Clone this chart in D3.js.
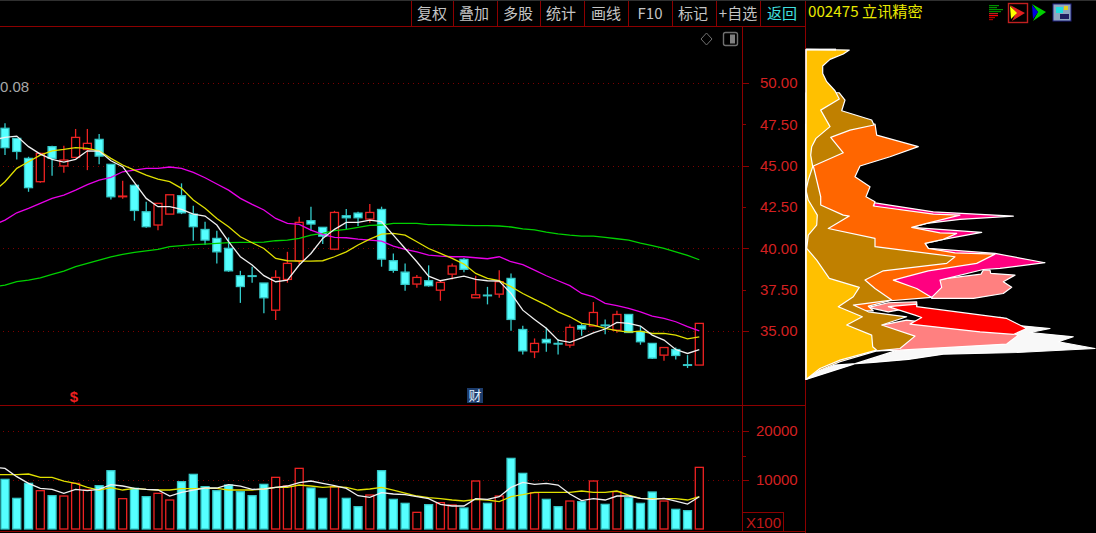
<!DOCTYPE html>
<html><head><meta charset="utf-8">
<script src="https://cdn.jsdelivr.net/npm/d3@7/dist/d3.min.js"></script>
<style>html,body{margin:0;padding:0;background:#000;overflow:hidden}svg{display:block}</style>
</head><body><svg id="c" width="1096" height="533"></svg>
<script>
const opens=[47.26,46.65,45.44,44.03,46.15,44.98,45.50,45.98,46.59,45.08,43.12,43.81,42.21,41.41,42.07,43.18,42.07,41.14,40.60,40.00,38.34,38.34,37.90,36.26,38.12,39.25,41.67,41.27,39.95,41.97,42.13,41.77,42.35,39.25,38.56,37.84,38.04,37.47,38.44,39.33,37.01,37.17,37.23,38.18,35.09,33.74,34.49,34.25,34.15,35.32,35.30,35.36,35.05,36.00,34.97,34.25,33.54,33.88,32.96,32.94];
const closes=[46.09,45.86,43.67,45.74,45.44,45.34,46.71,46.35,45.58,43.12,43.16,42.29,41.31,42.72,43.24,42.15,41.31,40.50,39.79,38.64,37.69,38.30,37.01,38.24,39.09,41.57,41.47,40.74,42.17,41.85,41.85,42.17,39.35,38.67,37.82,38.24,37.74,37.94,38.93,38.73,37.19,37.13,37.98,35.70,33.80,34.25,34.29,34.21,35.22,35.12,36.12,35.32,36.00,34.91,34.35,33.36,34.00,33.52,32.92,35.46];
const highs=[47.56,46.65,45.54,45.78,46.21,46.21,47.22,47.22,46.91,45.08,44.09,43.85,42.82,42.72,43.24,43.93,42.58,41.61,41.06,40.66,38.64,38.89,37.90,38.68,39.79,41.91,42.52,41.27,42.27,42.38,42.21,42.68,42.52,39.69,39.09,38.38,38.97,38.08,39.09,39.41,38.34,37.67,38.68,38.48,35.32,34.55,35.20,34.51,35.40,35.46,36.75,35.70,36.22,36.00,35.28,34.25,34.00,34.00,33.54,35.46];
const lows=[45.64,45.38,43.42,43.97,44.39,44.57,45.48,44.73,45.08,42.96,43.00,41.67,41.25,41.10,42.07,42.07,40.46,40.20,39.09,38.58,36.70,37.92,36.08,35.66,37.92,39.05,41.07,40.26,39.89,41.15,41.35,41.55,38.89,38.52,37.43,37.62,37.68,36.83,38.12,38.56,37.01,36.61,37.01,35.01,33.58,33.36,33.74,33.58,33.99,34.71,35.30,34.81,34.89,34.91,34.17,33.30,33.20,33.28,32.76,32.94];
const volumes=[10132,6256,9316,7820,6800,6732,9316,7956,8840,11900,6188,8296,6596,7276,5916,9656,11152,8636,7820,8976,7616,6800,9112,10540,8772,12376,8364,6256,8636,6256,4556,6936,11900,6052,5236,3400,4964,5372,4896,4284,9792,5236,6732,14416,11356,7412,6052,4556,5712,5576,9792,5032,7616,6392,5236,7548,5712,4012,3740,12580];
// moving averages: first value is the session just left of the visible window
const ma5=[46.55,46.71,46.79,46.15,45.70,45.38,45.22,45.38,45.90,45.88,45.30,44.94,43.97,43.02,42.52,42.52,42.35,42.07,41.95,41.41,40.40,39.49,38.99,38.35,37.98,38.08,38.99,39.69,40.60,41.15,41.57,41.57,41.71,41.61,40.80,39.99,39.19,38.32,38.04,38.18,38.32,38.12,38.04,38.02,37.27,36.26,35.70,35.16,34.45,34.31,34.59,34.89,35.12,35.52,35.46,35.30,34.75,34.45,33.88,33.64,33.88];
const ma10=[43.40,44.03,44.84,45.24,45.64,45.90,45.98,46.09,46.05,45.90,45.44,45.04,44.73,44.43,44.19,44.03,43.63,42.92,42.42,41.81,41.31,40.70,40.34,39.99,39.39,39.25,39.23,39.23,39.25,39.49,39.79,40.20,40.56,40.86,40.90,40.80,40.40,39.99,39.69,39.39,39.05,38.48,38.18,38.04,37.68,37.27,36.91,36.57,36.16,35.86,35.46,35.36,35.16,35.02,34.93,34.99,34.85,34.85,34.75,34.53,34.65];
const ma20=[41.40,41.71,42.15,42.42,42.72,43.02,43.22,43.52,43.85,44.13,44.29,44.63,44.73,44.84,44.84,44.92,44.84,44.59,44.27,43.89,43.52,43.02,42.66,42.32,41.81,41.51,41.45,41.10,40.84,40.66,40.64,40.56,40.50,40.44,40.14,39.93,39.79,39.59,39.53,39.49,39.49,39.43,39.37,39.49,39.19,39.01,38.68,38.34,38.04,37.74,37.27,37.07,36.67,36.53,36.37,36.16,35.90,35.76,35.56,35.26,35.01];
const ma60=[37.66,37.78,37.98,38.08,38.22,38.42,38.62,38.89,39.09,39.29,39.49,39.63,39.75,39.85,39.94,40.10,40.16,40.22,40.26,40.30,40.34,40.36,40.36,40.38,40.46,40.50,40.60,40.80,40.90,41.07,41.15,41.27,41.39,41.41,41.51,41.51,41.51,41.43,41.43,41.41,41.39,41.37,41.37,41.35,41.29,41.18,41.12,40.98,40.88,40.80,40.74,40.74,40.66,40.58,40.50,40.32,40.16,40.00,39.79,39.57,39.31];
const volMa5=[12580,12376,10676,9316,8296,8092,7276,8092,7820,8092,9044,8772,8296,8092,7956,6732,7480,7956,8364,8364,9044,8772,8092,8160,8500,8772,9452,9792,9316,8840,8296,6800,6460,7412,7140,7004,6596,6188,5032,4692,4692,6188,6052,6596,8500,9520,9112,9316,8976,7140,5780,6188,5916,6732,6732,6256,6052,6256,5712,5100,6596];
const volMa10=[11084,11084,11084,11220,10540,10540,9792,9316,8500,7956,8432,7956,8296,8092,7956,7956,8228,8228,8296,8296,7956,7956,7956,8160,8500,8500,8976,8772,8500,8636,8500,7956,8160,8500,7956,7344,6732,6392,6188,5916,5712,6052,5916,5576,6596,7004,7480,7480,7480,7480,7752,7480,7480,7752,6936,6256,6188,6188,6188,5916,6596];
const priceTicks=[50,47.5,45,42.5,40,37.5,35];
const volumeTicks=[20000,10000];
const toolbarLabels=["复权","叠加","多股","统计","画线","F10","标记","+自选","返回"];
const stockTitle="002475 立讯精密";
// chip distribution layers: [price, chips]
const chipWhite=[[35.82,194],[35.70,200.7],[35.36,207.3],[35.15,244],[34.91,224],[34.65,267.3],[34.35,252.3],[33.94,289],[33.70,210.7],[33.60,137.3],[33.28,102.3],[33.10,67.3],[32.94,29],[32.43,7.3],[32.07,0]];
const chipSalmonA=[[38.08,127.3],[38.44,175],[38.68,177.3],[38.68,184],[38.48,184.7],[38.38,209],[37.98,197.3],[37.64,205.7],[37.27,197.3],[36.97,167.3],[36.97,125.7]];
const chipSalmonB=[[35.36,75.7],[35.66,100.7],[34.85,207.3],[34.75,212.3],[34.21,200.7],[33.84,94],[33.80,70.7]];
const chipSalmonC=[[36.43,62.3],[36.71,82.3],[36.77,110.7],[36.47,110.7],[36.16,82.3]];
const chipRed=[[36.47,82.3],[36.63,110.7],[36.47,110.7],[35.76,200.7],[35.15,220.7],[34.79,207.3],[34.95,174],[35.42,104],[35.82,115.7],[35.96,109]];
const chipPink=[[42.76,67.3],[42.21,127.3],[41.95,207.3],[41.75,154],[41.51,120.7],[41.27,105.7],[40.96,175.7],[40.54,137.3],[40.30,119],[40.00,122.3],[39.69,189],[39.13,239],[38.79,194],[38.72,177.3],[38.08,134],[37.64,135.7],[37.03,125.7],[38.08,87.3]];
const chipOrange=[[47.52,0],[47.52,69],[46.85,70.7],[46.15,112.3],[45.54,84],[44.98,54],[44.33,49],[43.73,64],[43.12,60],[42.82,69],[42.56,67.3],[42.07,127.3],[42.01,154],[41.51,120.7],[41.27,105.7],[40.94,134],[40.90,150.7],[40.54,137.3],[40.30,119],[40.00,122.3],[39.73,149],[39.65,189],[39.09,170.7],[38.64,122.3],[38.08,87.3],[37.57,110.7],[37.03,125.7],[36.83,84],[36.50,62.3],[36.22,67.3],[36.22,0]];
const chipGold=[[49.41,0],[49.41,33.3],[48.97,39],[48.32,35.7],[47.76,65.7],[47.46,68],[47.15,44],[46.71,24.7],[45.78,37.3],[44.98,7.3],[43.12,14.7],[42.62,14.7],[42.01,37.3],[41.95,43.3],[41.20,22.3],[40.60,69],[40.10,69],[39.49,149],[39.09,140.7],[38.64,77.3],[38.08,59],[37.57,69],[36.87,85.7],[36.57,47.3],[36.16,62.3],[35.86,100.7],[35.36,75.7],[34.69,109],[33.94,94],[33.80,70.7],[33.14,34],[32.63,14],[32.07,0]];
const chipYellow=[[52.04,0],[51.99,43.3],[51.75,37.3],[51.43,24],[51.03,16.7],[50.58,16.7],[50.08,20.7],[49.53,29],[49.03,33.3],[48.36,14.7],[47.36,24],[46.65,10],[46.15,5.7],[45.64,4.7],[44.94,6.7],[44.13,2.3],[43.52,0],[42.92,2.3],[42.01,11.3],[41.41,10.7],[40.80,2.3],[40.00,0.7],[39.29,10.7],[38.18,23.3],[37.64,53.3],[37.07,47.3],[36.47,32.3],[35.86,56.3],[35.36,40.7],[34.75,65.7],[34.05,66.7],[33.84,70.7],[33.24,34],[32.73,14],[32.07,0]];

const svg=d3.select("#c");
const W=1096,H=533;
const LINE="#8c0000", TICKTXT="#d42020", DOT="#7c0000", CYAN="#55ffff", RED="#ee2222";
const FONT="'Liberation Sans',Arial,sans-serif", CJK="'Noto Sans CJK SC','Liberation Sans',sans-serif";
svg.append("rect").attr("width",W).attr("height",H).attr("fill","#000");

const x=d3.scaleLinear().domain([0,59]).range([5,699.3]);
const y=d3.scaleLinear().domain([50,35]).range([83,331]);
const yv=d3.scaleLinear().domain([0,20000]).range([529,431]);
const cx=d3.scaleLinear().domain([0,290]).range([806,1096]);
const bw=8;
const defs=svg.append("defs");
defs.append("clipPath").attr("id","pc").append("rect").attr("x",0).attr("y",26).attr("width",742).attr("height",505);
const crisp=g=>g.attr("shape-rendering","crispEdges");

// grid
const grid=svg.append("g").call(crisp);
grid.selectAll(".gp").data(priceTicks.filter(d=>d%5===0)).join("line").attr("class","gp")
  .attr("x1",d=>d===50?28:3).attr("x2",742).attr("y1",d=>Math.round(y(d))+.5).attr("y2",d=>Math.round(y(d))+.5)
  .attr("stroke",DOT).attr("stroke-dasharray","1 4");
grid.selectAll(".gv").data(volumeTicks).join("line")
  .attr("class","gv").attr("x1",3).attr("x2",742).attr("y1",d=>Math.round(yv(d))+.5).attr("y2",d=>Math.round(yv(d))+.5)
  .attr("stroke",DOT).attr("stroke-dasharray","1 4");

// candles
const idx=d3.range(opens.length);
const up=i=>closes[i]>=opens[i];
const main=svg.append("g").attr("clip-path","url(#pc)");
const cg=main.append("g");
const ct=i=>y(Math.max(opens[i],closes[i]));
const cb=i=>y(Math.min(opens[i],closes[i]));
const px=i=>x(i);
cg.selectAll("line.hi").data(idx).join("line").attr("class","hi")
  .attr("x1",px).attr("x2",px).attr("y1",i=>y(highs[i])).attr("y2",ct)
  .attr("stroke",i=>up(i)?RED:"#33cccc").attr("stroke-width",1.3);
cg.selectAll("line.lo").data(idx).join("line").attr("class","lo")
  .attr("x1",px).attr("x2",px).attr("y1",cb).attr("y2",i=>y(lows[i]))
  .attr("stroke",i=>up(i)?RED:"#33cccc").attr("stroke-width",1.3);
cg.selectAll("rect.b").data(idx).join("rect").attr("class","b")
  .attr("x",i=>px(i)-bw/2).attr("width",bw).attr("y",ct).attr("height",i=>Math.max(cb(i)-ct(i),0.01))
  .attr("fill",i=>up(i)?"#000":CYAN).attr("stroke",i=>up(i)?RED:"#35c8c8").attr("stroke-width",1.3);

const lineP=d3.line().x((d,i)=>x(i-1)).y(d=>y(d));
[[ma60,"#00d000"],[ma20,"#e800e8"],[ma10,"#e0e000"],[ma5,"#f0f0f0"]].forEach(([s,c])=>
  main.append("path").attr("d",lineP(s)).attr("fill","none").attr("stroke",c).attr("stroke-width",1.3));

// volume bars
const vg=svg.append("g").attr("clip-path","url(#pc)");
vg.append("g").selectAll("rect").data(idx).join("rect")
  .attr("x",i=>px(i)-bw/2).attr("width",bw).attr("y",i=>yv(volumes[i])).attr("height",i=>529-yv(volumes[i]))
  .attr("fill",i=>up(i)?"#000":CYAN).attr("stroke",i=>up(i)?RED:"#35c8c8").attr("stroke-width",1.3);
const lineV=d3.line().x((d,i)=>x(i-1)).y(d=>yv(d));
vg.append("path").attr("d",lineV(volMa10)).attr("fill","none").attr("stroke","#e0e000").attr("stroke-width",1.3);
vg.append("path").attr("d",lineV(volMa5)).attr("fill","none").attr("stroke","#f0f0f0").attr("stroke-width",1.3);

// frames
const fr=svg.append("g").call(crisp).attr("stroke",LINE);
[[0,26.5,805,26.5],[0,405.5,805,405.5],[0,531.5,805,531.5],[742.5,26,742.5,531],[805.5,0,805.5,533],[742,512.5,783,512.5],[783.5,512,783.5,531]].forEach(l=>
  fr.append("line").attr("x1",l[0]).attr("y1",l[1]).attr("x2",l[2]).attr("y2",l[3]));
[411,453,497,540,584,628,672,716,760].forEach(v=>fr.append("line").attr("x1",v+.5).attr("x2",v+.5).attr("y1",0).attr("y2",26));
svg.append("line").attr("x1",0).attr("x2",W).attr("y1",.5).attr("y2",.5).attr("stroke","#303030");

// axes
const axP=d3.axisRight(y).tickValues(priceTicks).tickFormat(d3.format(".2f")).tickSize(0).tickPadding(18);
const gP=svg.append("g").attr("transform","translate(742,0)").call(axP);
const axV=d3.axisRight(yv).tickValues(volumeTicks).tickFormat(d3.format("d")).tickSize(0).tickPadding(14);
const gV=svg.append("g").attr("transform","translate(742,0)").call(axV);
[gP,gV].forEach(g=>{g.select(".domain").remove();g.selectAll("text").attr("fill",TICKTXT).style("font",`15px ${FONT}`);});
const tk=svg.append("g").call(crisp).attr("stroke",LINE);
priceTicks.forEach(d=>tk.append("line").attr("x1",742).attr("x2",d%5===0?749:746).attr("y1",Math.round(y(d))+.5).attr("y2",Math.round(y(d))+.5));
volumeTicks.concat([15000]).forEach(d=>tk.append("line").attr("x1",742).attr("x2",d===15000?746:749).attr("y1",Math.round(yv(d))+.5).attr("y2",Math.round(yv(d))+.5));

const txt=(t,xx,yy,c,s,anchor,f)=>svg.append("text").text(t).attr("x",xx).attr("y",yy).attr("fill",c).attr("text-anchor",anchor||"start").style("font",`${s}px ${f||FONT}`);
txt("X100",746,528,"#c01818",15);
txt("0.08",0,92,"#a8a8a8",15);
txt("$",74,402,"#ee2020",15,"middle").style("font-weight","bold");
svg.append("rect").attr("x",467).attr("y",388).attr("width",16).attr("height",15).attr("fill","#1c3c6c");
txt("财",475,400,"#e0f0ff",13,"middle",CJK);

// toolbar
const centers=[432,474,518,561,606,650,693,738,782];
toolbarLabels.forEach((t,i)=>txt(t,centers[i],19,i===8?"#40e0e0":"#c4c4c4",15,"middle",CJK));
txt(stockTitle,808,17,"#e8e800",15.2,"start",CJK);

// small tool icons
svg.append("path").attr("d","M701 39 l5.5-6 l5.5 6 l-5.5 6z").attr("fill","none").attr("stroke","#707070");
svg.append("rect").attr("x",723.5).attr("y",32.5).attr("width",14).attr("height",13).attr("rx",2).attr("fill","none").attr("stroke","#707070").attr("stroke-width",1.4);
svg.append("rect").attr("x",730).attr("y",34.5).attr("width",5).attr("height",9).attr("fill","#808080");
const ic=svg.append("g");
[[5,"#009000",10],[7,"#009000",8],[9,"#009000",14],[11,"#008800",12],[13,"#c02020",9],[15,"#ff0000",9],[17,"#b00000",6],[19,"#a00000",4]].forEach(r=>
  ic.append("rect").attr("x",989).attr("y",r[0]).attr("width",r[2]).attr("height",1.2).attr("fill",r[1]));
ic.append("rect").attr("x",1008.5).attr("y",3.5).attr("width",19).attr("height",19).attr("fill","none").attr("stroke","#c02020").attr("stroke-width",1.4);
ic.append("path").attr("d","M1010 5 L1025 13 L1012 21 L1016 13z").attr("fill","#e02020");
ic.append("path").attr("d","M1010 6 L1017 13 L1011 19z").attr("fill","#ffff00");
ic.append("path").attr("d","M1032 4 L1046 12 L1033 21 L1038 12z").attr("fill","#00d000");
ic.append("path").attr("d","M1032 5 L1038 12 L1033 19z").attr("fill","#0000e0");
ic.append("rect").attr("x",1053).attr("y",4).attr("width",18).attr("height",17).attr("fill","#90a8c0").attr("stroke","#202080");
ic.append("rect").attr("x",1056).attr("y",7).attr("width",7).attr("height",6).attr("fill","#20e0e0");
ic.append("rect").attr("x",1060).attr("y",14).attr("width",9).attr("height",5).attr("fill","#202060");
ic.append("rect").attr("x",1064).attr("y",6).attr("width",4).attr("height",4).attr("fill","#e0d020");

// chip distribution
const chipLine=d3.line().x(d=>cx(d[1])).y(d=>y(d[0])).curve(d3.curveLinearClosed);
[[chipWhite,"#f8f8f8"],[chipSalmonA,"#ff8080"],[chipSalmonB,"#ff8080"],[chipSalmonC,"#ff8080"],[chipRed,"#ff0000"],[chipPink,"#ff0080"],[chipOrange,"#ff6600"],[chipGold,"#c08000"],[chipYellow,"#ffc000"]].forEach(([d,c])=>
  svg.append("path").attr("d",chipLine(d)).attr("fill",c).attr("stroke","#ffffff").attr("stroke-width",1.2).attr("stroke-linejoin","round"));
svg.append("line").attr("x1",806).attr("x2",806).attr("y1",y(52.04)).attr("y2",y(32.07)).attr("stroke","#ffffff");
svg.append("line").attr("x1",cx(0)).attr("x2",cx(30)).attr("y1",y(52.02)).attr("y2",y(52.02)).attr("stroke","#ffffff").attr("stroke-width",2);
</script></body></html>
